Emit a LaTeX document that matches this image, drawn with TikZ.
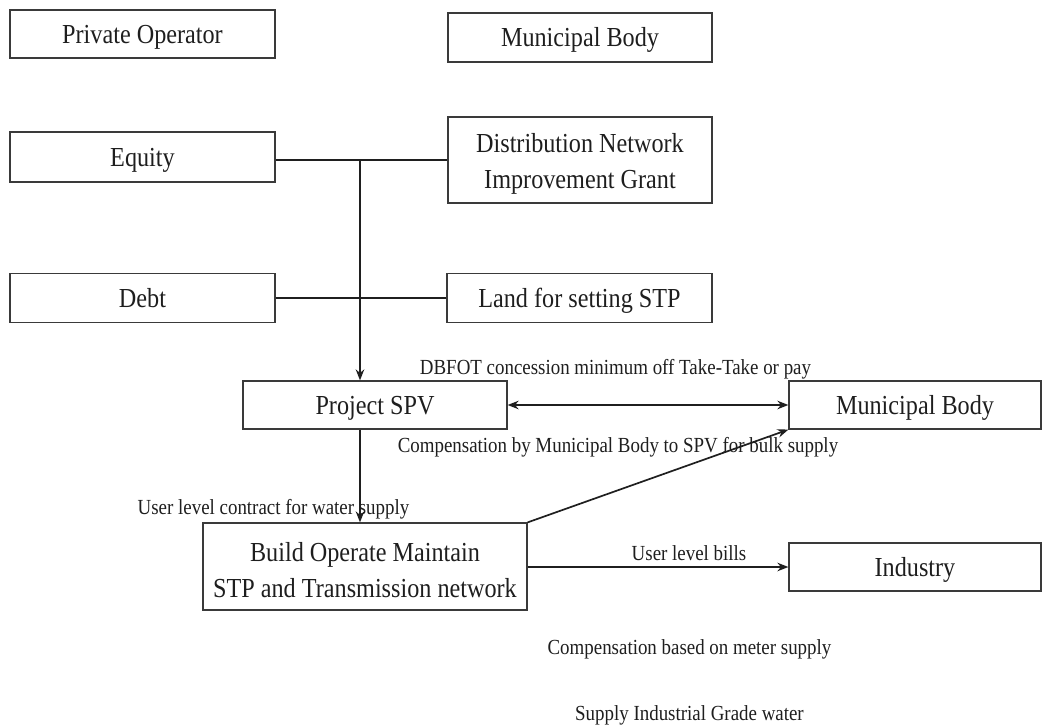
\documentclass[tikz,border=0pt]{standalone}
\usepackage{fontspec}
\setmainfont{Liberation Serif}[FakeStretch=0.88]
\usetikzlibrary{arrows.meta}
\definecolor{txt}{HTML}{1E1E1E}
\definecolor{bord}{HTML}{3A3A3A}
\tikzset{
  boxfont/.style={text=txt, font=\fontsize{27.5}{36}\selectfont},
  box/.style={draw=bord, line width=1.2pt, inner sep=0pt, boxfont,
    text height=18.5pt, text depth=0pt},
  bigbox/.style={draw=bord, line width=1.2pt, inner sep=0pt},
  bigtext/.style={boxfont, align=center, inner sep=0pt, yshift=-4pt},
  lbl/.style={inner sep=0pt, text=txt, font=\fontsize{21.5}{26}\selectfont,
    text height=14.3pt, text depth=0pt},
  conn/.style={draw=black!88, line width=1.7pt},
  tip/.style={-{Stealth[length=11pt,width=8.5pt]}},
  tips/.style={{Stealth[length=11pt,width=8.5pt]}-{Stealth[length=11pt,width=8.5pt]}}
}
\begin{document}
\begin{tikzpicture}[x=1pt,y=-1pt]
\useasboundingbox (0,0) rectangle (1045,725);
% boxes
\node[box, minimum width=265pt, minimum height=48pt] (po) at (142.5,34) {Private Operator};
\node[box, minimum width=264pt, minimum height=49pt] (mb1) at (580,37.5) {Municipal Body};
\node[box, minimum width=265pt, minimum height=50pt] (eq) at (142.5,157) {Equity};
\node[bigbox, minimum width=264pt, minimum height=86pt,
  label={[bigtext]center:Distribution Network\\Improvement Grant}] (dn) at (580,160) {};
\node[box, minimum width=265pt, minimum height=49pt] (debt) at (142.5,298) {Debt};
\node[box, minimum width=265pt, minimum height=49pt] (land) at (579.5,298) {Land for setting STP};
\node[box, minimum width=264pt, minimum height=48pt] (spv) at (375,405) {Project SPV};
\node[box, minimum width=252pt, minimum height=48pt] (mb2) at (915,405) {Municipal Body};
\node[bigbox, minimum width=324pt, minimum height=87pt,
  label={[bigtext]center:Build Operate Maintain\\STP and Transmission network}] (bom) at (365,566.5) {};
\node[box, minimum width=252pt, minimum height=48pt] (ind) at (915,567) {Industry};
% labels
\node[lbl] (l1) at (615.5,367) {DBFOT concession minimum off Take-Take or pay};
\node[lbl] (l2) at (618,445) {Compensation by Municipal Body to SPV for bulk supply};
\node[lbl] (l3) at (273.5,507) {User level contract for water supply};
\node[lbl] (l4) at (689,553) {User level bills};
\node[lbl] (l5) at (689.5,647) {Compensation based on meter supply};
\node[lbl] (l6) at (689.5,713) {Supply Industrial Grade water};
% connectors
\coordinate (j1) at (360,160);
\draw[conn] (eq.east |- dn.west) -- (dn.west);
\draw[conn] (debt.east |- land.west) -- (land.west);
\draw[conn, tip] (j1) -- (j1 |- spv.north);
\draw[conn, tip] (spv.south -| j1) -- (bom.north -| j1);
\draw[conn, tips] (spv.east) -- (mb2.west);
\draw[conn, tip] (bom.north east) -- (mb2.south west);
\draw[conn, tip] (bom.east |- ind.west) -- (ind.west);
\end{tikzpicture}
\end{document}
